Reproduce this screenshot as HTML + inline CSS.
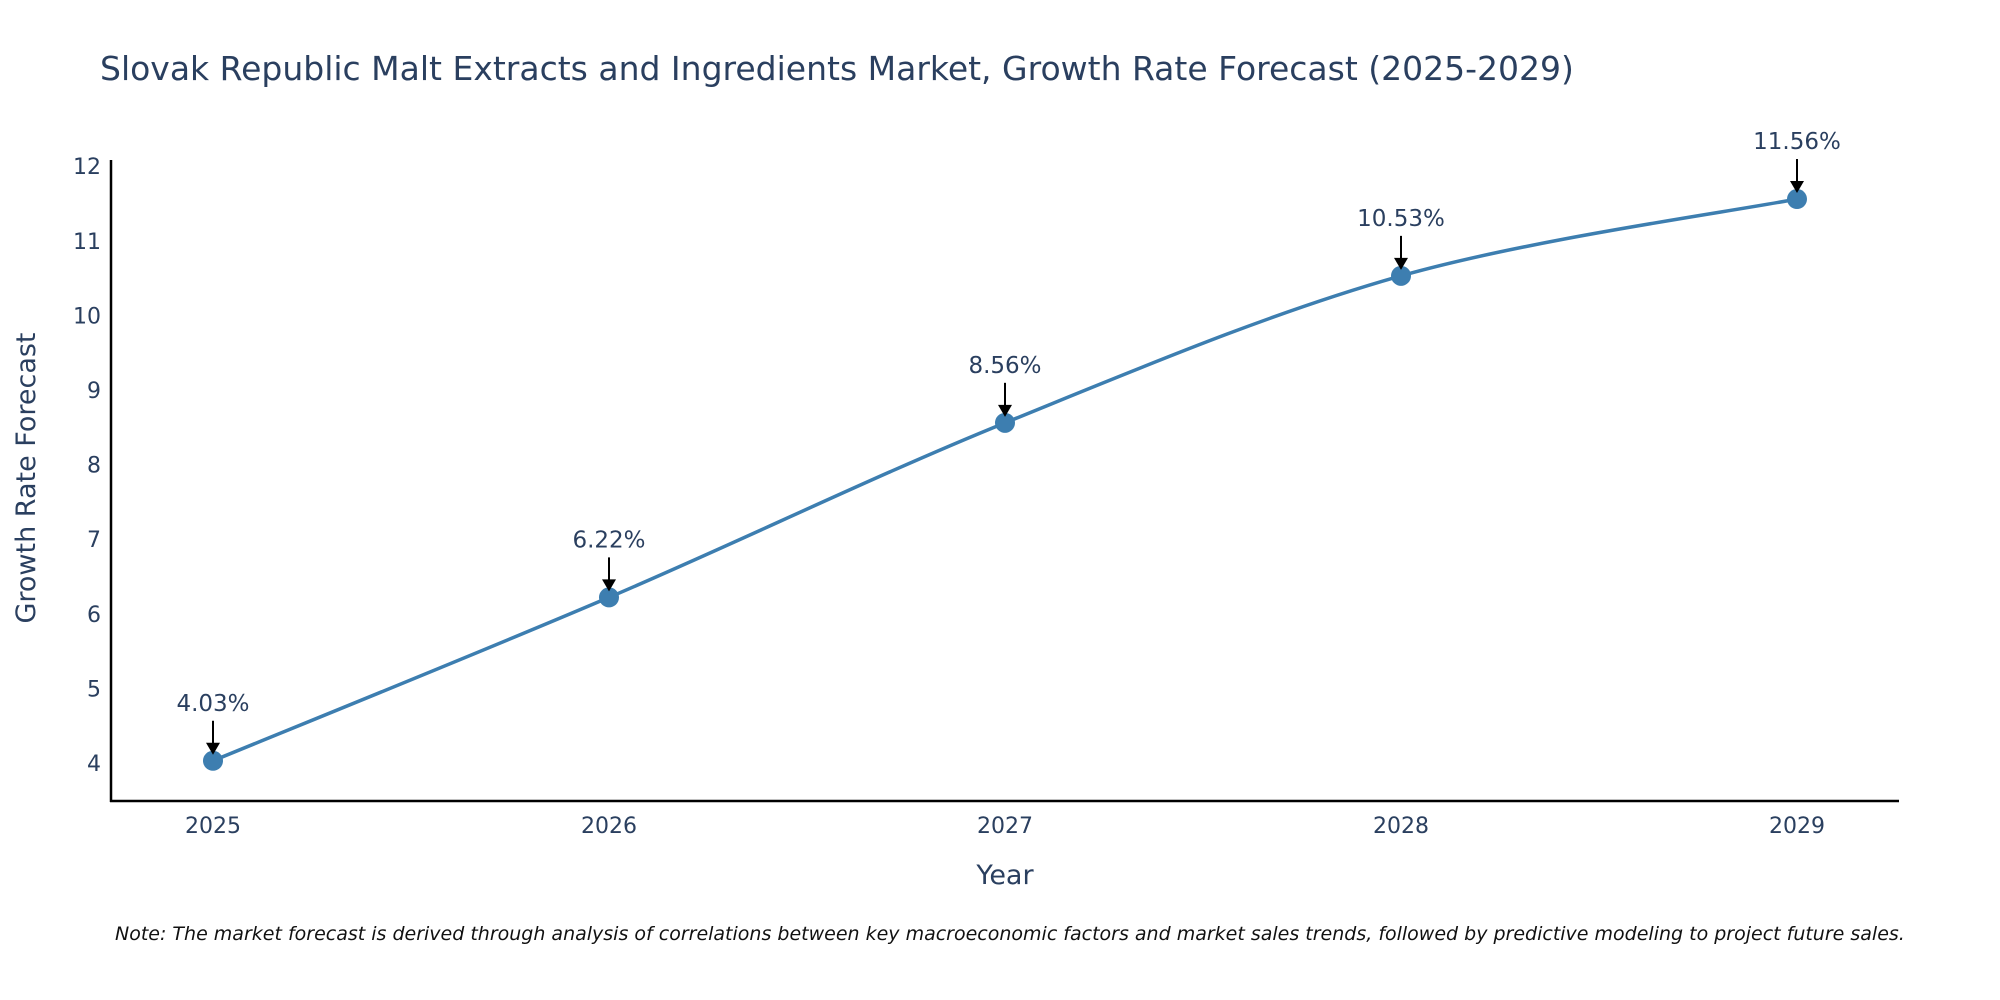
<!DOCTYPE html>
<html><head><meta charset="utf-8"><style>
body{margin:0;background:#fff;overflow:hidden;}
svg{display:block;font-family:"DejaVu Sans","Liberation Sans",sans-serif;}
</style></head><body>
<svg id="chart" width="2000" height="1000" viewBox="0 0 2000 1000">
<text x="100" y="80" font-size="33" fill="#2a3f5f">Slovak Republic Malt Extracts and Ingredients Market, Growth Rate Forecast (2025-2029)</text>
<g id="yticks"></g>
<g id="xticks"></g>
<line x1="111" y1="160" x2="111" y2="802" stroke="#000" stroke-width="2.5"/>
<line x1="110" y1="801" x2="1899" y2="801" stroke="#000" stroke-width="2.5"/>
<text x="1005" y="884" font-size="27" fill="#2a3f5f" text-anchor="middle">Year</text>
<text transform="translate(35,478) rotate(-90)" font-size="27" fill="#2a3f5f" text-anchor="middle">Growth Rate Forecast</text>
<g id="series"></g>
<text x="115" y="940" font-size="19" font-style="italic" fill="#111">Note: The market forecast is derived through analysis of correlations between key macroeconomic factors and market sales trends, followed by predictive modeling to project future sales.</text>
</svg>
<script>
const years = ["2025","2026","2027","2028","2029"];
const growth = [4.03, 6.22, 8.56, 10.53, 11.56];
const yTickValues = [4,5,6,7,8,9,10,11,12];
const labels = ["4.03%","6.22%","8.56%","10.53%","11.56%"];

const NS="http://www.w3.org/2000/svg";
function xs(i){return 213+i*396;}
function ys(v){return 763-(v-4)*74.6;}
function mk(tag,attrs,parent){const e=document.createElementNS(NS,tag);for(const k in attrs)e.setAttribute(k,attrs[k]);parent.appendChild(e);return e;}
const yt=document.getElementById('yticks');
yTickValues.forEach(v=>{
  const t=mk('text',{x:101,y:ys(v)+8,'font-size':22,fill:'#2a3f5f','text-anchor':'end'},yt);
  
  
  t.textContent=v;
});
const xt=document.getElementById('xticks');
years.forEach((y,i)=>{
  const t=mk('text',{x:xs(i),y:833,'font-size':22,fill:'#2a3f5f','text-anchor':'middle'},xt);
  
  
  t.textContent=y;
});
const s=document.getElementById('series');
const pts=growth.map((v,i)=>[xs(i),ys(v)]);
let d=`M${pts[0][0]},${pts[0][1]}`;
for(let i=0;i<pts.length-1;i++){
  const p0=pts[Math.max(0,i-1)],p1=pts[i],p2=pts[i+1],p3=pts[Math.min(pts.length-1,i+2)];
  const t=1/6;
  d+=` C${p1[0]+(p2[0]-p0[0])*t},${p1[1]+(p2[1]-p0[1])*t} ${p2[0]-(p3[0]-p1[0])*t},${p2[1]-(p3[1]-p1[1])*t} ${p2[0]},${p2[1]}`;
}
const line=mk('path',{d:d,fill:'none',stroke:'#3d7eb0','stroke-width':3.5},s);


pts.forEach((p,i)=>{
  const c=mk('circle',{cx:p[0],cy:p[1],r:10,fill:'#3d7eb0'},s);
  
  
  const a=mk('line',{x1:p[0],y1:p[1]-40,x2:p[0],y2:p[1]-16,stroke:'#000','stroke-width':2},s);
  
  
  const h=mk('path',{d:`M${p[0]-7},${p[1]-18} L${p[0]+7},${p[1]-18} L${p[0]},${p[1]-6} Z`,fill:'#000'},s);
  
  
  const t=mk('text',{x:p[0],y:p[1]-50,'font-size':23,fill:'#2a3f5f','text-anchor':'middle'},s);
  
  
  t.textContent=labels[i];
});
</script>
</body></html>
